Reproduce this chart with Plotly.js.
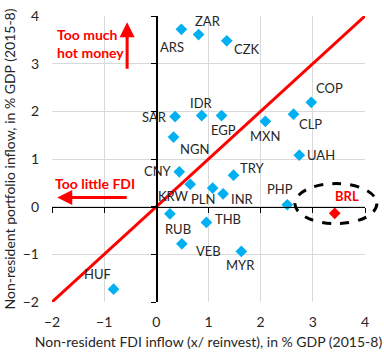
<!DOCTYPE html>
<html><head><meta charset="utf-8">
<script src="https://cdn.plot.ly/plotly-3.0.1.min.js"></script>
<style>body{margin:0;background:#fff}#c{width:384px;height:360px}</style>
</head><body><div id="c"></div>
<script>
const currencies = ["ARS","ZAR","CZK","IDR","EGP","SAR","NGN","COP","CLP","MXN","UAH","TRY","CNY","KRW","PLN","INR","PHP","RUB","THB","VEB","MYR","HUF"];
const fdiInflow   = [0.48,0.81,1.35,0.87,1.25,0.36,0.33,2.97,2.63,2.09,2.74,1.48,0.44,0.65,1.08,1.28,2.51,0.26,0.96,0.49,1.63,-0.82];
const portInflow  = [3.72,3.61,3.48,1.91,1.91,1.89,1.46,2.19,1.94,1.79,1.08,0.66,0.73,0.47,0.39,0.27,0.04,-0.15,-0.33,-0.78,-0.94,-1.73];
const highlightName = ["BRL"];
const highlightFdi = [3.42];
const highlightPort = [-0.14];
const diagLine = [-2, 4];
const tickVals = [-2,-1,0,1,2,3,4];

// label offsets in pixels (style)
const labelShift = {
  ARS:[-9,-18], ZAR:[9,14], CZK:[20,-8], IDR:[0,13], EGP:[2,-14], SAR:[-21,0],
  NGN:[21,-12], COP:[18,14], CLP:[17,-10], MXN:[0,-15], UAH:[22,0], TRY:[18,7],
  CNY:[-21,1], KRW:[-17,-12], PLN:[-10,-11], INR:[19,-5], PHP:[-7,16],
  RUB:[8,-15], THB:[22,3], VEB:[27,-7], MYR:[-1,-14], HUF:[-16,15], BRL:[12,17]
};

const font = "Lato, Open Sans, sans-serif";
const txt = "#262626";
const ann = [];
currencies.forEach((c,i)=>{
  ann.push({x:fdiInflow[i], y:portInflow[i], xref:'x', yref:'y', text:c, showarrow:false,
    xshift:labelShift[c][0], yshift:labelShift[c][1], font:{family:font,size:13,color:txt}});
});
highlightName.forEach((c,i)=>{
  ann.push({x:highlightFdi[i], y:highlightPort[i], xref:'x', yref:'y', text:'<b>'+c+'</b>', showarrow:false,
    xshift:labelShift[c][0], yshift:labelShift[c][1], font:{family:font,size:13,color:'#ff0000'}});
});
ann.push({x:-1.95, y:3.42, xref:'x', yref:'y', xanchor:'left', yanchor:'middle', align:'left',
  text:'<b>Too much<br>hot money</b>', showarrow:false, font:{family:font,size:14,color:'#ff0000'}});
ann.push({x:-1.98, y:0.48, xref:'x', yref:'y', xanchor:'left', yanchor:'middle', align:'left',
  text:'<b>Too little FDI</b>', showarrow:false, font:{family:font,size:14,color:'#ff0000'}});
ann.push({x:-0.56, y:3.87, ax:-0.56, ay:2.86, xref:'x', yref:'y', axref:'x', ayref:'y', text:'',
  showarrow:true, arrowhead:2, arrowsize:1, arrowwidth:3, arrowcolor:'#ff0000'});
ann.push({x:-1.9, y:0.19, ax:-0.54, ay:0.19, xref:'x', yref:'y', axref:'x', ayref:'y', text:'',
  showarrow:true, arrowhead:2, arrowsize:1, arrowwidth:3, arrowcolor:'#ff0000'});

const traces = [
  {x:diagLine, y:diagLine, mode:'lines', xaxis:'x2', yaxis:'y2', line:{color:'#ff0000', width:3}, hoverinfo:'skip'},
  {x:fdiInflow, y:portInflow, mode:'markers', marker:{symbol:'diamond', size:9, color:'#00b0f0'}},
  {x:highlightFdi, y:highlightPort, mode:'markers', marker:{symbol:'diamond', size:9, color:'#ff0000'}}
];

const layout = {
  width:384, height:360, showlegend:false,
  margin:{l:52, r:19, t:16, b:58},
  paper_bgcolor:'#fff', plot_bgcolor:'#fff',
  font:{family:font, color:txt},
  xaxis:{range:[-2,4], tickvals:tickVals, showgrid:true, gridcolor:'#d9d9d9', gridwidth:1,
    zeroline:false, showline:false, ticks:'', tickfont:{size:14,color:txt}, ticklabelstandoff:10,
    title:{text:'Non-resident FDI inflow (x/ reinvest), in % GDP (2015-8)', font:{size:14,color:txt}, standoff:8}},
  yaxis:{range:[-2,4], tickvals:tickVals, showgrid:true, gridcolor:'#d9d9d9', gridwidth:1,
    zeroline:false, showline:false, ticks:'', tickfont:{size:14,color:txt}, ticklabelstandoff:12,
    title:{text:'Non-resident portfolio inflow, in % GDP (2015-8)', font:{size:14,color:txt}, standoff:3}},
  xaxis2:{range:[-2,4], tickvals:tickVals, overlaying:'x', anchor:'free', position:1/3, side:'bottom',
    showgrid:false, zeroline:false, showline:true, linecolor:'#000', linewidth:1.5,
    ticks:'outside', ticklen:5, tickcolor:'#000', showticklabels:false},
  yaxis2:{range:[-2,4], tickvals:tickVals, overlaying:'y', anchor:'free', position:1/3, side:'left',
    showgrid:false, zeroline:false, showline:true, linecolor:'#000', linewidth:1.5,
    ticks:'outside', ticklen:5, tickcolor:'#000', showticklabels:false},
  shapes:[{type:'circle', xref:'paper', yref:'paper', x0:0.776, x1:1.038, y0:0.274, y1:0.414,
    line:{color:'#000', width:3, dash:'dash'}}],
  annotations:ann
};
Plotly.newPlot('c', traces, layout, {staticPlot:true});
</script></body></html>
